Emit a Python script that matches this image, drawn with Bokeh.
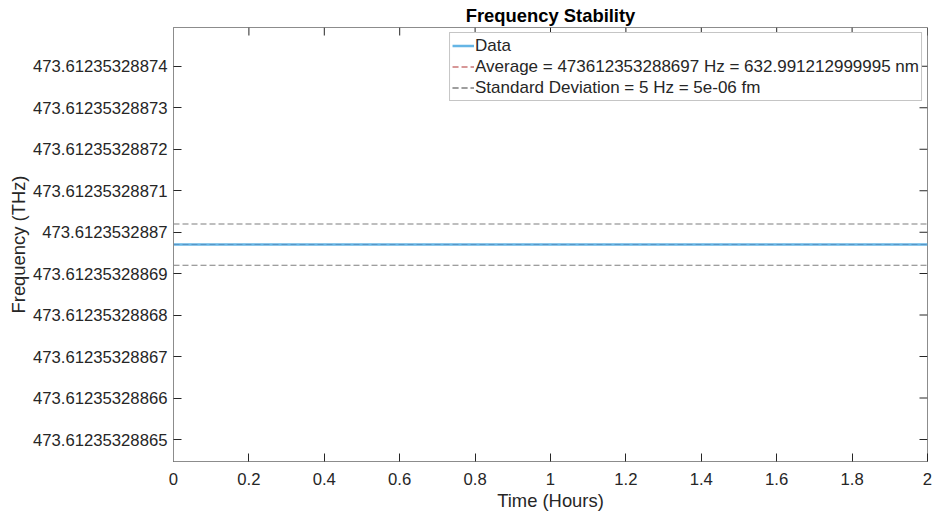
import math
from bokeh.plotting import figure
from bokeh.models import FixedTicker, Range1d, Legend, LegendItem
from bokeh.embed import file_html
from bokeh.resources import INLINE

# ---- data (frequency in Hz, time in hours) ----
time_hours = [0.0, 0.25, 0.5, 0.75, 1.0, 1.25, 1.5, 1.75, 2.0]
freq_hz = [473612353288697, 473612353288697, 473612353288697, 473612353288697,
           473612353288697, 473612353288697, 473612353288697, 473612353288697,
           473612353288697]
average_hz = 473612353288697
std_hz = 5

x_min, x_max = 0.0, 2.0
y_min, y_max = 473612353288644.7, 473612353288749.4

y_tick_values = [473612353288650, 473612353288660, 473612353288670, 473612353288680,
                 473612353288690, 473612353288700, 473612353288710, 473612353288720,
                 473612353288730, 473612353288740]
y_tick_labels = ["473.61235328865", "473.61235328866", "473.61235328867", "473.61235328868",
                 "473.61235328869", "473.6123532887", "473.61235328871", "473.61235328872",
                 "473.61235328873", "473.61235328874"]
x_tick_values = [0, 0.2, 0.4, 0.6, 0.8, 1.0, 1.2, 1.4, 1.6, 1.8, 2.0]
x_tick_labels = ["0", "0.2", "0.4", "0.6", "0.8", "1", "1.2", "1.4", "1.6", "1.8", "2"]

legend_labels = ["Data",
                 "Average = 473612353288697 Hz = 632.991212999995 nm",
                 "Standard Deviation = 5 Hz = 5e-06 fm"]

FONT = "Liberation Sans"
TXT = "#262626"
AX = "#8c8c8c"

p = figure(width=932, height=513, output_backend="svg", toolbar_location=None,
           x_range=Range1d(x_min, x_max), y_range=Range1d(y_min, y_max),
           min_border_left=173, min_border_right=5, min_border_top=27, min_border_bottom=0,
           x_axis_label="Time (Hours)", y_axis_label="Frequency (THz)")
p.background_fill_color = "white"
p.border_fill_color = "white"
p.outline_line_color = AX
p.outline_line_width = 1
p.xgrid.visible = False
p.ygrid.visible = False

p.title.text = "Frequency Stability"
p.title.align = "center"
p.title.text_font = FONT
p.title.text_font_size = "18.4px"
p.title.text_font_style = "bold"
p.title.text_color = "black"
p.title.standoff = 4

def style(ax, ticks, labels):
    ax.ticker = FixedTicker(ticks=ticks)
    ax.axis_line_color = AX
    ax.major_tick_line_color = TXT
    ax.major_tick_in = 8
    ax.major_tick_out = 0
    ax.minor_tick_line_color = None
    ax.major_label_text_font = FONT
    ax.major_label_text_color = TXT
    ax.major_label_text_font_size = "16.7px"
    ax.major_label_overrides = {v: s for v, s in zip(ticks, labels)}
    ax.axis_label_text_font = FONT
    ax.axis_label_text_font_size = "18.4px"
    ax.axis_label_text_font_style = "normal"
    ax.axis_label_text_color = TXT

style(p.yaxis[0], y_tick_values, y_tick_labels)
style(p.xaxis[0], x_tick_values, x_tick_labels)
p.yaxis[0].major_label_standoff = 6
p.yaxis[0].axis_label_standoff = 1
p.xaxis[0].major_label_standoff = 11
p.xaxis[0].axis_label_standoff = 2

# inward ticks on the right and top edges of the box
p.ray(x=[x_max] * len(y_tick_values), y=y_tick_values, length=8, length_units="screen",
      angle=math.pi, line_color=TXT, line_width=1)
p.ray(x=x_tick_values, y=[y_max] * len(x_tick_values), length=8, length_units="screen",
      angle=-math.pi / 2, line_color=TXT, line_width=1)

upper = [average_hz + std_hz] * len(time_hours)
lower = [average_hz - std_hz] * len(time_hours)
avg = [average_hz] * len(time_hours)

r_up = p.line(time_hours, upper, line_color="#7f7f7f", line_width=1.2, line_dash="6 3")
r_lo = p.line(time_hours, lower, line_color="#7f7f7f", line_width=1.2, line_dash="6 3")
r_avg = p.line(time_hours, avg, line_color="#b03030", line_width=1.2, line_dash="6 3")
r_data = p.line(time_hours, freq_hz, line_color="#4aa8e0", line_width=2.5, line_alpha=0.85)

legend = Legend(items=[LegendItem(label=legend_labels[0], renderers=[r_data]),
                       LegendItem(label=legend_labels[1], renderers=[r_avg]),
                       LegendItem(label=legend_labels[2], renderers=[r_up, r_lo])],
                location="top_right")
legend.margin = 5
legend.padding = 2
legend.spacing = 0
legend.glyph_width = 22
legend.glyph_height = 21
legend.label_height = 21
legend.label_standoff = 1
legend.label_text_font = FONT
legend.label_text_font_size = "17px"
legend.label_text_color = TXT
legend.border_line_color = "#8c8c8c"
legend.border_line_width = 1
legend.background_fill_color = "white"
legend.background_fill_alpha = 1
p.add_layout(legend, "center")

open("out.html", "w").write(file_html(p, INLINE))
